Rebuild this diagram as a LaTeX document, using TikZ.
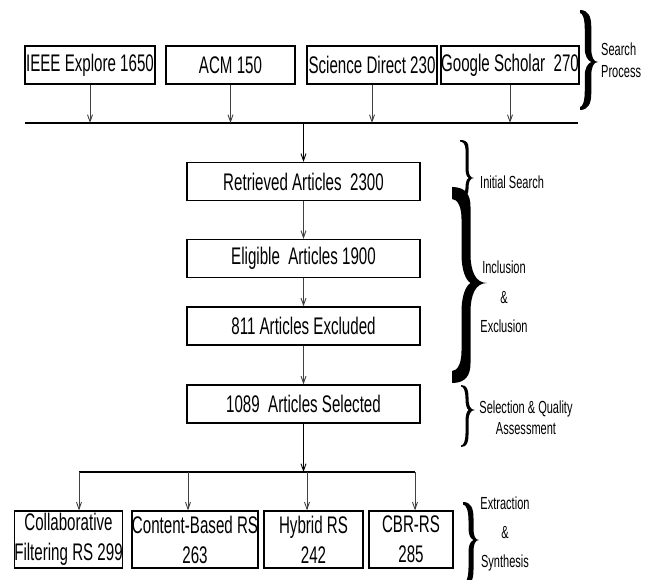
\documentclass[tikz,border=0pt]{standalone}
\usepackage{fontspec}
\setmainfont{Liberation Sans}[FakeStretch=0.63]
\usetikzlibrary{arrows.meta}
% filled curly brace: x0 xs xt y1 ym y2 t te hA
\newcommand{\fbrace}[9]{%
  \pgfmathsetmacro{\bxa}{#2+#7/2}%
  \pgfmathsetmacro{\bxb}{#2-#7/2}%
  \pgfmathsetmacro{\bhb}{1.4*(#3-#2)}%
  \pgfmathsetmacro{\btc}{\bxa+0.3*(#3-\bxa)}%
  \pgfmathsetmacro{\bic}{#1+0.6*(\bxb-#1)}%
  \fill (#1,#4) .. controls (#2,#4) and (\bxa,#4+0.4*#9) .. (\bxa,#4+#9)
    -- (\bxa,#5-\bhb) .. controls (\bxa,#5-0.4*\bhb) and (\btc,#5) .. (#3,#5)
    .. controls (\btc,#5) and (\bxa,#5+0.4*\bhb) .. (\bxa,#5+\bhb)
    -- (\bxa,#6-#9) .. controls (\bxa,#6-0.4*#9) and (#2,#6) .. (#1,#6)
    -- (#1,#6-#8) .. controls (\bic,#6-#8) and (\bxb,#6-#8-0.4*#9) .. (\bxb,#6-#8-#9)
    -- (\bxb,#5+\bhb) .. controls (\bxb,#5+0.4*\bhb) and (#2,#5+0.1*\bhb) .. (\bxa,#5)
    .. controls (#2,#5-0.1*\bhb) and (\bxb,#5-0.4*\bhb) .. (\bxb,#5-\bhb)
    -- (\bxb,#4+#8+#9) .. controls (\bxb,#4+#8+0.4*#9) and (\bic,#4+#8) .. (#1,#4+#8)
    -- cycle;}
\begin{document}
\begin{tikzpicture}[x=1pt,y=-1pt,
  box/.style={draw=black,line width=1.2pt,inner sep=0pt,align=center,
    font=\fontsize{24}{30}\selectfont},
  topbox/.style={box,minimum height=38pt},
  midbox/.style={box,minimum width=233pt,minimum height=38pt},
  botbox/.style={box,minimum height=57pt},
  arr/.style={draw=black!75,line width=0.9pt,-{Straight Barb[length=7pt,width=5pt]}},
  hline/.style={draw=black,line width=1.5pt},
  lbl/.style={inner sep=0pt,align=center,font=\fontsize{17.5}{29}\selectfont}]
\useasboundingbox (0,0) rectangle (650,580);

% top row
\node[topbox,minimum width=130pt] (ieee) at (90,65) {IEEE Explore 1650};
\node[topbox,minimum width=129pt] (acm) at (230.5,65) {ACM 150};
\node[topbox,minimum width=130pt] (sd) at (372,65) {Science Direct 230};
\node[topbox,minimum width=136pt] (gs) at (510,65) {Google Scholar\ \ 270};

\coordinate (la) at (25,123);
\coordinate (lb) at (578,123);
\coordinate (lc) at (303.5,123);
\draw[hline] (la) -- (lb);
\foreach \n in {ieee,acm,sd,gs}{
  \draw[arr] (\n.south) -- (\n.south |- la);
}

% middle column
\node[midbox] (ret) at (303.5,181.5) {Retrieved Articles\ \ 2300};
\node[midbox] (eli) at (303.5,258.5) {Eligible\ \ Articles 1900};
\node[midbox] (exc) at (303.5,326) {811 Articles Excluded};
\node[midbox] (sel) at (303.5,404) {1089\ \ Articles Selected};

\draw[arr,draw=black] (lc) -- (ret.north);
\draw[arr] (ret) -- (eli);
\draw[arr] (eli) -- (exc);
\draw[arr] (exc) -- (sel);

% bottom row
\coordinate (ma) at (79,472);
\coordinate (mb) at (415,472);
\coordinate (mc) at (188,472);
\coordinate (md) at (307,472);
\draw[hline] (ma) -- (mb);
\draw[arr,draw=black] (sel.south) -- (sel.south |- ma);

\node[botbox,minimum width=107pt] (cf) at (68.5,539.5) {Collaborative\\Filtering RS 299};
\node[botbox,minimum width=124pt] (cb) at (195,539.5) {Content-Based RS\\263};
\node[botbox,minimum width=99pt] (hy) at (313.5,539.5) {Hybrid RS\\242};
\node[botbox,minimum width=84pt] (cbr) at (411,539.5) {CBR-RS\\285};

\draw[arr] (ma) -- (ma |- cf.north);
\draw[arr] (mc) -- (mc |- cb.north);
\draw[arr] (md) -- (md |- hy.north);
\draw[arr] (mb) -- (mb |- cbr.north);

% braces
\fbrace{580}{588}{598}{10}{62}{110}{6.5}{3}{16}
\fbrace{460}{467}{474}{140}{178}{197}{3}{1.5}{8}
\fbrace{452}{466}{487}{187}{283}{383}{9}{12}{20}
\fbrace{461}{467}{475}{385}{410}{447}{3}{1.5}{12}
\fbrace{463}{471}{479}{502}{540}{586}{5}{2.5}{16}

% labels
\node[lbl,anchor=west,align=left,font=\fontsize{17.5}{22}\selectfont] (sp) at (601,60) {Search\\Process};
\node[lbl,anchor=west] (is) at (480,182) {Initial Search};
\node[lbl,font=\fontsize{17.5}{29.5}\selectfont] (ie) at (504,297) {Inclusion\\\&\\Exclusion};
\node[lbl,font=\fontsize{17.5}{21}\selectfont] (sq) at (526,417.5) {Selection \& Quality\\Assessment};
\node[lbl] (es) at (505,534) {Extraction\\\&\\Synthesis};
\end{tikzpicture}
\end{document}
